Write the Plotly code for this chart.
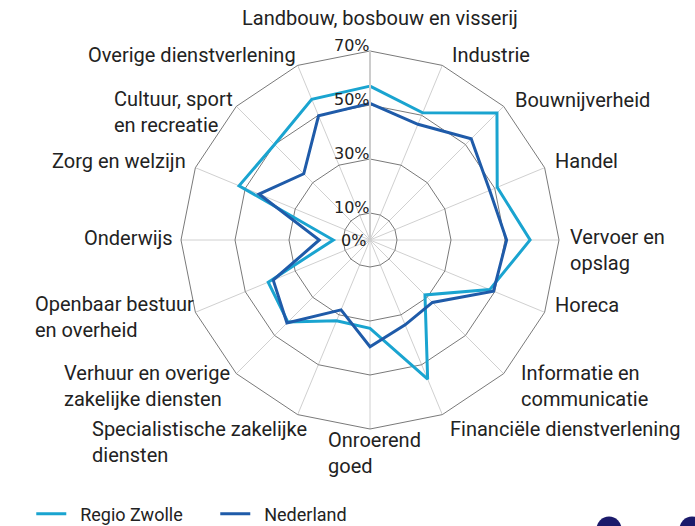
import plotly.graph_objects as go

# ---- data ----
category_labels = [
    "Landbouw, bosbouw en visserij", "Industrie", "Bouwnijverheid", "Handel",
    "Vervoer en<br>opslag", "Horeca", "Informatie en<br>communicatie",
    "Financiële dienstverlening", "Onroerend<br>goed",
    "Specialistische zakelijke<br>diensten", "Verhuur en overige<br>zakelijke diensten",
    "Openbaar bestuur<br>en overheid", "Onderwijs", "Zorg en welzijn",
    "Cultuur, sport<br>en recreatie", "Overige dienstverlening",
]
categories = [c.replace("<br>", " ") for c in category_labels]
regio_zwolle = [57, 51, 66.5, 51, 59.3, 48, 28.8, 55.8, 32.7, 32.4, 43, 40.8, 13.6, 52.5, 50, 56.4]
nederland = [50.6, 46.4, 53, 48, 50.6, 49.5, 32.7, 34, 39.5, 28, 43.5, 38.8, 18.8, 44.5, 34.7, 49.8]
tick_vals = [0, 10, 30, 50, 70]
tick_text = ["0%", "10%", "30%", "50%", "70%"]
r_max = 70

# ---- layout geometry (pixels in the 695x526 canvas) ----
W, H = 695, 526
CX, CY, R = 370, 240, 189
label_pos = [
    (380, 18, "center"), (450, 55, "left"), (513, 100, "left"), (553, 161, "left"),
    (568, 249.5, "left"), (553, 305, "left"), (519, 386, "left"), (448, 429, "left"),
    (326, 452.5, "left"), (90, 441.5, "left"), (62, 386, "left"), (33, 317, "left"),
    (175, 238, "right"), (188, 161, "right"), (112, 112, "left"), (298, 55, "right"),
]

LIGHT = "#1aa4d0"
DARK = "#1f5ba9"
FONT = "Roboto"
NB = "\u00a0"

fig = go.Figure()
fig.add_trace(go.Scatterpolar(
    r=regio_zwolle + regio_zwolle[:1], theta=categories + categories[:1],
    mode="lines", name=NB * 2 + "Regio Zwolle", line=dict(color=LIGHT, width=3)))
fig.add_trace(go.Scatterpolar(
    r=nederland + nederland[:1], theta=categories + categories[:1],
    mode="lines", name=NB * 2 + "Nederland", line=dict(color=DARK, width=3)))

annotations = []
for text, (px, py, anchor) in zip(category_labels, label_pos):
    annotations.append(dict(
        text=text, x=px / W, y=1 - py / H, xref="paper", yref="paper",
        xanchor=anchor, yanchor="middle", align="left", showarrow=False,
        font=dict(family=FONT, size=20, color="#222")))

# radial tick labels, placed just left of the vertical axis, sitting on their ring
for v, t in zip(tick_vals, tick_text):
    ring_y = CY - R * v / r_max
    yc = ring_y - (6 if v > 0 else 0)
    annotations.append(dict(
        text=t, x=(CX + (2 if v > 0 else -2)) / W, y=1 - yc / H,
        xref="paper", yref="paper", xanchor="right", yanchor="middle",
        showarrow=False, font=dict(family="DejaVu Sans", size=16, color="#222")))

fig.update_layout(
    width=W, height=H,
    margin=dict(l=0, r=0, t=0, b=0, autoexpand=False),
    paper_bgcolor="white", plot_bgcolor="white",
    font=dict(family=FONT, size=20, color="#222"),
    polar=dict(
        domain=dict(x=[(CX - R) / W, (CX + R) / W], y=[1 - (CY + R) / H, 1 - (CY - R) / H]),
        bgcolor="white",
        gridshape="linear",
        radialaxis=dict(
            range=[0, r_max], tickvals=tick_vals, ticktext=tick_text,
            angle=90, showticklabels=False,
            showline=True, linecolor="#cccccc", linewidth=2,
            gridcolor="#7a7a7a", gridwidth=1, ticks="",
        ),
        angularaxis=dict(
            direction="clockwise", rotation=90, showticklabels=False,
            showline=True, linecolor="#7a7a7a", linewidth=1,
            gridcolor="#d0d0d0", gridwidth=1, ticks="",
        ),
    ),
    annotations=annotations,
    legend=dict(orientation="h", x=0.045, y=1 - 514 / H, xanchor="left", yanchor="middle",
                font=dict(family=FONT, size=18, color="#222"),
                itemwidth=30, entrywidth=139, entrywidthmode="pixels"),
    shapes=[
        dict(type="circle", xref="paper", yref="paper",
             x0=596.5 / W, x1=621.5 / W, y0=1 - 541.5 / H, y1=1 - 516.5 / H,
             fillcolor="#1b1a6b", line=dict(width=0)),
        dict(type="circle", xref="paper", yref="paper",
             x0=679.5 / W, x1=704.5 / W, y0=1 - 541.5 / H, y1=1 - 516.5 / H,
             fillcolor="#1b1a6b", line=dict(width=0)),
    ],
)

fig.write_html("out.html", config={"displayModeBar": False},
               post_script="document.body.style.margin='0px';")
